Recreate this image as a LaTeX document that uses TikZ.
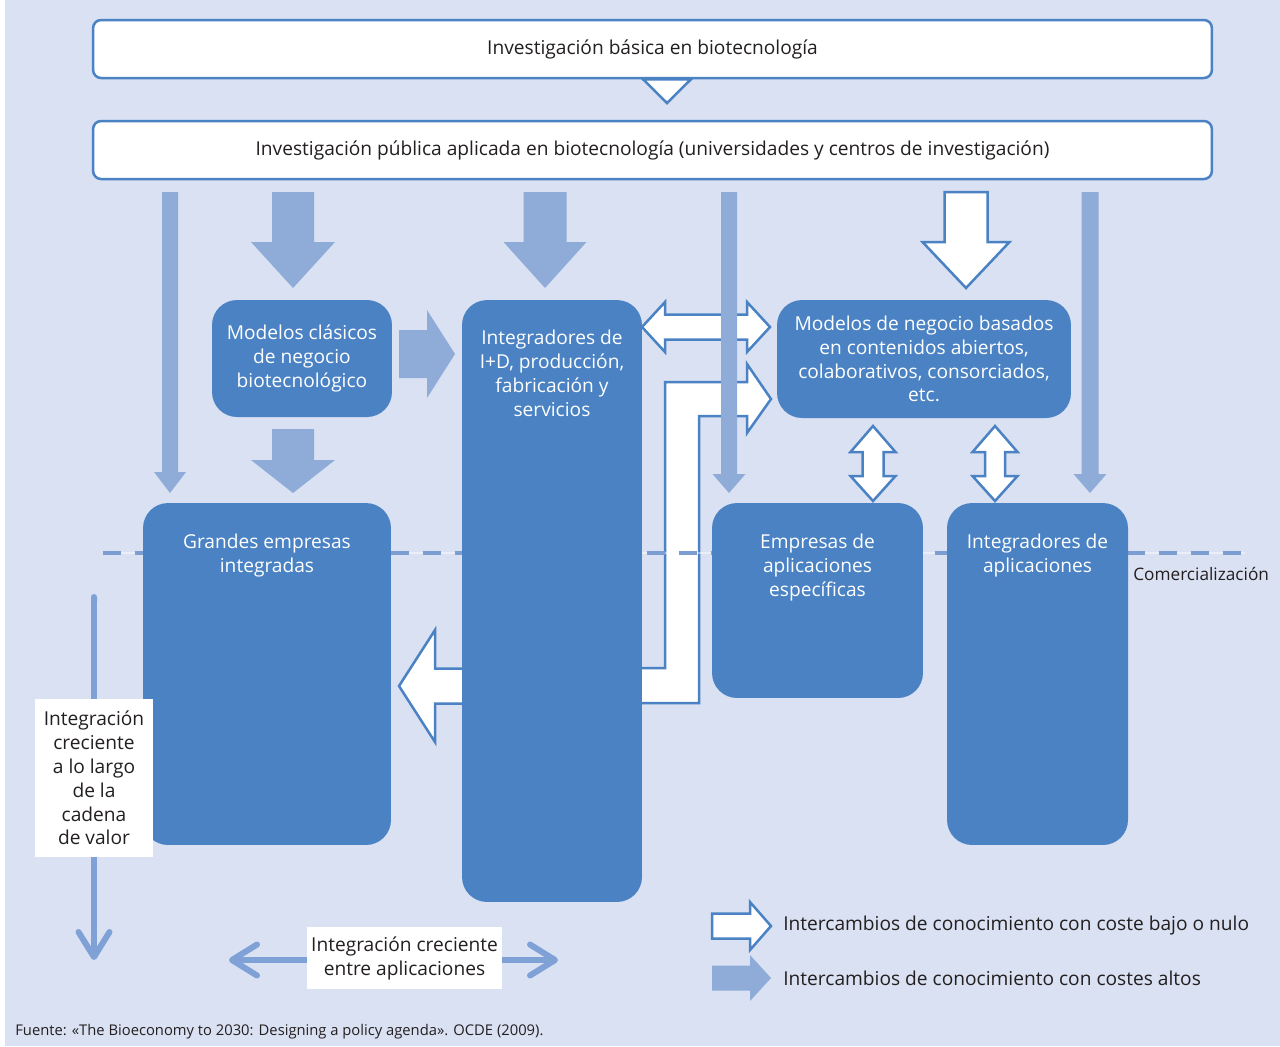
\documentclass[tikz,border=0pt]{standalone}
\usepackage{fontspec}
\setmainfont{Open Sans}
\usetikzlibrary{arrows.meta, positioning}
\definecolor{bgblue}{HTML}{D9E1F2}
\definecolor{boxblue}{HTML}{4A82C3}
\definecolor{lightblue}{HTML}{8FACD8}
\definecolor{lineblue}{HTML}{7FA1D5}
\definecolor{dashblue}{HTML}{7C9DD2}
\definecolor{txtgray}{HTML}{231F20}
\newcommand{\mainsize}{\fontsize{10.9}{13.6}\selectfont}
% block arrows, coordinates in px
\newcommand{\vblock}[7]{% x, tail, neck, tip, half shaft, half head, style
  \draw[#7] (#1-#5,#2) -- (#1+#5,#2) -- (#1+#5,#3) -- (#1+#6,#3) -- (#1,#4)
    -- (#1-#6,#3) -- (#1-#5,#3) -- cycle;}
\newcommand{\hblock}[7]{% y, tail, neck, tip, half shaft, half head, style
  \draw[#7] (#2,#1-#5) -- (#3,#1-#5) -- (#3,#1-#6) -- (#4,#1) -- (#3,#1+#6)
    -- (#3,#1+#5) -- (#2,#1+#5) -- cycle;}
\newcommand{\hdouble}[8]{% y, left tip, left neck, right neck, right tip, half shaft, half head, style
  \draw[#8] (#2,#1) -- (#3,#1-#7) -- (#3,#1-#6) -- (#4,#1-#6) -- (#4,#1-#7) -- (#5,#1)
    -- (#4,#1+#7) -- (#4,#1+#6) -- (#3,#1+#6) -- (#3,#1+#7) -- cycle;}
\newcommand{\vdouble}[8]{% x, top tip, top neck, bottom neck, bottom tip, half shaft, half head, style
  \draw[#8] (#1,#2) -- (#1+#7,#3) -- (#1+#6,#3) -- (#1+#6,#4) -- (#1+#7,#4) -- (#1,#5)
    -- (#1-#7,#4) -- (#1-#6,#4) -- (#1-#6,#3) -- (#1-#7,#3) -- cycle;}
\begin{document}
\begin{tikzpicture}[x=0.02cm, y=-0.02cm,
  tbox/.style={rectangle, draw=boxblue, fill=white, line width=0.05cm, rounded corners=0.16cm,
               minimum width=22.38cm, minimum height=1.16cm, text=txtgray, font=\mainsize},
  dbox/.style={rectangle, fill=boxblue, rounded corners=0.5cm, inner sep=0pt},
  dtxt/.style={text=white, align=center, font=\mainsize, inner sep=0pt},
  lightarr/.style={fill=lightblue, draw=none},
  whitearr/.style={fill=white, draw=boxblue, line width=0.05cm, line join=miter},
  dashline/.style={draw=dashblue, line width=0.08cm, dash pattern=on 0.36cm off 0.28cm},
  flowline/.style={draw=lineblue, line width=0.12cm, line cap=round,
                   {Straight Barb[length=0.5cm, width=0.62cm, round]}-{Straight Barb[length=0.5cm, width=0.62cm, round]}},
  tag/.style={fill=white, text=txtgray, align=center, font=\mainsize, inner sep=0pt},
  lab/.style={text=txtgray, font=\mainsize, inner sep=0pt},
]
\useasboundingbox (0,0) rectangle (1280,1046);
\fill[bgblue] (5,0) rectangle (1280,1046);

% research levels
\node[tbox] (basica) at (652.5,49) {Investigación básica en biotecnología};
\node[tbox] (publica) at (652.5,150) {Investigación pública aplicada en biotecnología (universidades y centros de investigación)};
\coordinate (tipA) at (643,78);
\coordinate (tipB) at (691,78);
\draw[whitearr] (tipA |- basica.south) -- (tipB |- basica.south) -- (667,103) -- cycle;

% costly exchanges
\vblock{293}{192}{242}{288}{21}{42}{lightarr}
\vblock{545}{192}{242}{288}{21.5}{41.5}{lightarr}
\vblock{293}{429}{460}{493}{21}{42}{lightarr}
\hblock{354}{399}{427}{455}{24}{44}{lightarr}

% low cost exchanges
\vblock{966}{192}{242}{288}{21.5}{43.5}{whitearr}
\hdouble{327}{642}{665}{747}{770}{12.5}{25}{whitearr}
\draw[whitearr] (635,668) -- (665,668) -- (665,382) -- (747,382) -- (747,364) -- (771,399)
  -- (747,433) -- (747,416) -- (699,416) -- (699,703) -- (635,703) -- cycle;
\hblock{686}{470}{435}{399}{17.5}{56}{whitearr}
\vdouble{873}{426}{452}{476}{501}{10.5}{22.5}{whitearr}
\vdouble{995}{426}{452}{476}{501}{10}{22.5}{whitearr}

% commercialisation threshold
\coordinate (comL) at (103,553);
\coordinate (comR) at (1245,553);
\draw[white, opacity=0.45, line width=0.03cm] (comL) -- (comR);
\draw[dashline] (comL) -- (comR);
\node[lab, anchor=west, font=\fontsize{9.8}{12}\selectfont] (comer) at (1133,574) {Comercialización};

% actors
\node[dbox, minimum width=3.6cm, minimum height=2.34cm] (clasicos) at (302,358.5) {};
\node[dtxt] at (clasicos.center) {Modelos clásicos\\de negocio\\biotecnológico};
\node[dbox, minimum width=3.6cm, minimum height=12.04cm] (idp) at (552,601) {};
\node[dtxt, anchor=north] at ([yshift=-0.6cm]idp.north) {Integradores de\\I+D, producción,\\fabricación y\\servicios};
\node[dbox, minimum width=5.88cm, minimum height=2.36cm] (abiertos) at (924,359) {};
\node[dtxt] at (abiertos.center) {Modelos de negocio basados\\en contenidos abiertos,\\colaborativos, consorciados,\\etc.};
\node[dbox, minimum width=4.96cm, minimum height=6.84cm] (grandes) at (267,674) {};
\node[dtxt, anchor=north] at ([yshift=-0.62cm]grandes.north) {Grandes empresas\\integradas};
\node[dbox, minimum width=4.22cm, minimum height=3.9cm] (especificas) at (817.5,600.5) {};
\node[dtxt, anchor=north] at ([yshift=-0.62cm]especificas.north) {Empresas de\\aplicaciones\\específicas};
\node[dbox, minimum width=3.62cm, minimum height=6.84cm] (intapl) at (1037.5,674) {};
\node[dtxt, anchor=north] at ([yshift=-0.62cm]intapl.north) {Integradores de\\aplicaciones};

% thin flows from public research
\vblock{170}{192}{472}{493}{8}{16}{lightarr}
\vblock{729}{192}{474}{493}{8}{16.5}{lightarr}
\vblock{1090}{192}{474}{493}{8.5}{16.5}{lightarr}

% integration axes
\coordinate (vtop) at (94,594);
\coordinate (vbot) at (94,960);
\draw[flowline, {Round Cap}-{Straight Barb[length=0.5cm, width=0.62cm, round]}] (vtop) -- (vbot);
\node[tag, minimum width=2.36cm, minimum height=3.16cm] (cadena) at (94,778) {Integración\\creciente\\a lo largo\\de la\\cadena\\de valor};
\coordinate (hleft) at (229,960);
\coordinate (hright) at (558,960);
\draw[flowline] (hleft) -- (hright);
\node[tag, minimum width=3.9cm, minimum height=1.24cm] (entre) at (404.5,958) {Integración creciente\\entre aplicaciones};

% legend
\hblock{926}{712}{750}{771}{12.5}{24}{whitearr}
\hblock{978}{712}{750}{771}{12.5}{23}{lightarr}
\node[lab, anchor=west] (legbajo) at (783,926) {Intercambios de conocimiento con coste bajo o nulo};
\node[lab, anchor=west] (legalto) at (783,978) {Intercambios de conocimiento con costes altos};

\node[lab, anchor=west, font=\fontsize{8.4}{10}\selectfont] (fuente) at (15,1032) {Fuente: «The Bioeconomy to 2030: Designing a policy agenda». OCDE (2009).};
\end{tikzpicture}
\end{document}
